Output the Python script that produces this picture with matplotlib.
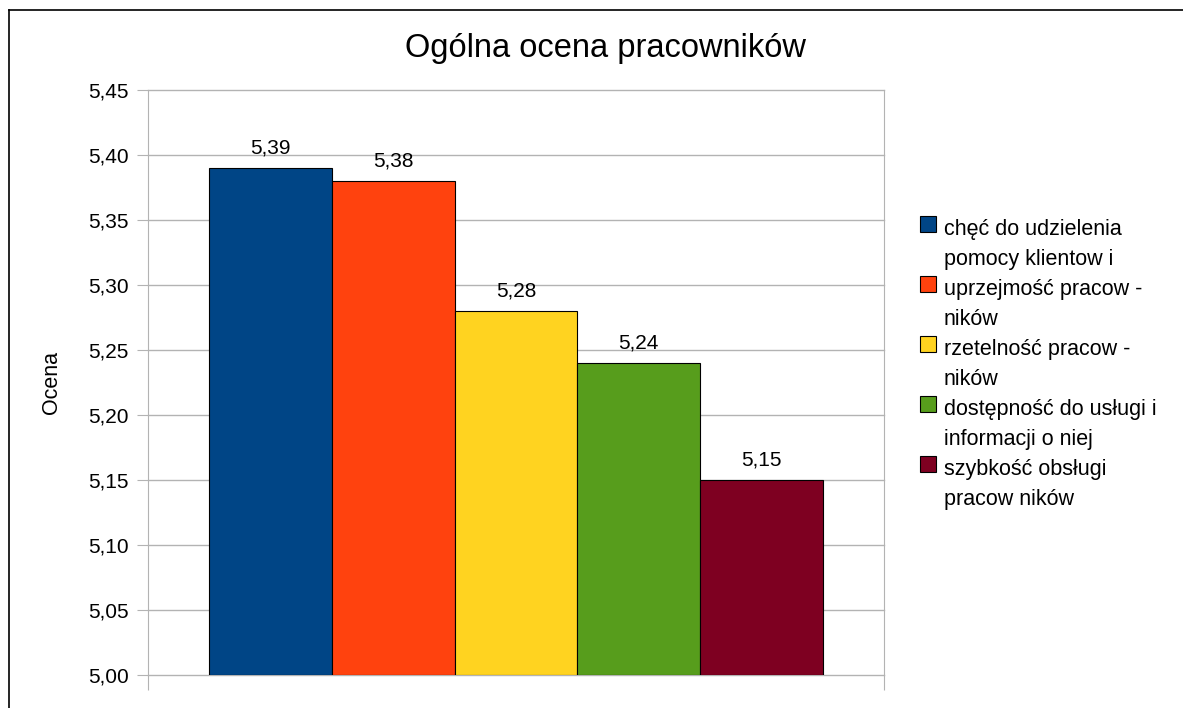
import matplotlib.pyplot as plt
from matplotlib.lines import Line2D
from matplotlib.patches import Rectangle

plt.rcParams['font.family'] = ['Liberation Sans', 'DejaVu Sans']

# oceny pracownikow
labels = ['chęć do udzielenia\npomocy klientow i',
          'uprzejmość pracow -\nników',
          'rzetelność pracow -\nników',
          'dostępność do usługi i\ninformacji o niej',
          'szybkość obsługi\npracow ników']
values = [5.39, 5.38, 5.28, 5.24, 5.15]
colors = ['#004586', '#ff420e', '#ffd320', '#579d1c', '#7e0021']
yticks = [5.00, 5.05, 5.10, 5.15, 5.20, 5.25, 5.30, 5.35, 5.40, 5.45]

W, H = 1183, 708
fig = plt.figure(figsize=(W / 100, H / 100), dpi=100)
ax = fig.add_axes([148 / W, 1 - 675 / H, (884 - 148) / W, (675 - 90) / H])

x = list(range(len(values)))
ax.bar(x, [v - 5.0 for v in values], bottom=5.0, width=1.0,
       color=colors, edgecolor='black', linewidth=0.8, zorder=3)

for xi, v in zip(x, values):
    ax.text(xi, v + 0.008, ('%.2f' % v).replace('.', ','), ha='center', va='bottom',
            fontsize=15)

ax.set_xlim(-1, 5)
ax.set_ylim(5.0, 5.45)
ax.set_yticks(yticks)
ax.set_yticklabels([('%.2f' % t).replace('.', ',') for t in yticks], fontsize=15)
ax.yaxis.grid(True, color='#b3b3b3', linewidth=1)
for gl in ax.get_ygridlines():
    gl.set_clip_on(False)
ax.tick_params(axis='y', length=8, color='#b3b3b3', pad=6)
ax.set_xticks([-1, 5])
ax.set_xticklabels(['', ''])
ax.tick_params(axis='x', length=11, color='#b3b3b3', direction='out')
for s in ['top', 'bottom']:
    ax.spines[s].set_visible(False)
for s in ['left', 'right']:
    ax.spines[s].set_color('#b3b3b3')
ax.set_ylabel('Ocena', fontsize=15.5)
ax.yaxis.set_label_coords((62 - 148) / 736, 0.5)

fig.text(605 / W, 1 - 49 / H, 'Ogólna ocena pracowników', ha='center', va='center',
         fontsize=23.5)

# legenda
for i, (lab, c) in enumerate(zip(labels, colors)):
    y0 = 229 + 60 * i
    fig.add_artist(Rectangle((920 / W, 1 - (y0 + 3) / H), 16 / W, 16 / H,
                             facecolor=c, edgecolor='black', linewidth=0.8,
                             transform=fig.transFigure))
    fig.text(944 / W, 1 - (y0 - 10) / H, lab, ha='left', va='top', fontsize=15.5,
             linespacing=1.55)

# ramka wykresu
fig.add_artist(Line2D([9 / W, 9 / W], [0, 1 - 10 / H], color='black', linewidth=1.2))
fig.add_artist(Line2D([9 / W, 1], [1 - 10 / H, 1 - 10 / H], color='black', linewidth=1.2))

fig.savefig('out.png', dpi=100)
